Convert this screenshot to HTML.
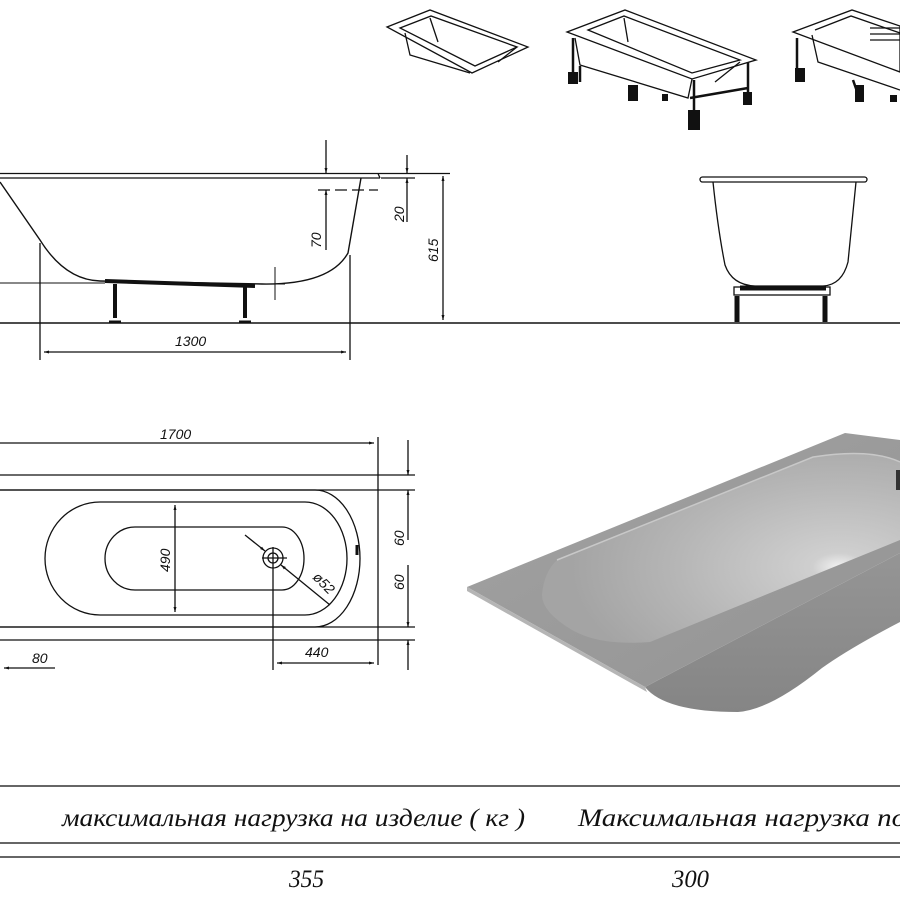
<!DOCTYPE html>
<html><head><meta charset="utf-8"><style>
html,body{margin:0;padding:0;background:#fff;}
svg{display:block}
text{font-family:"Liberation Sans",sans-serif;font-style:italic;fill:#111}
.t{font-family:"Liberation Serif",serif;font-style:italic}
</style></head><body>
<svg width="900" height="900" viewBox="0 0 900 900" xmlns="http://www.w3.org/2000/svg">
<defs>
<marker id="a" viewBox="0 0 10 10" refX="10" refY="5" markerWidth="10" markerHeight="5" orient="auto-start-reverse" markerUnits="userSpaceOnUse"><path d="M0,2 L10,5 L0,8z" fill="#111"/></marker>
<linearGradient id="g1" x1="0" y1="0" x2="1" y2="1"><stop offset="0" stop-color="#a2a2a2"/><stop offset="1" stop-color="#949494"/></linearGradient>
<radialGradient id="g2" cx="0.83" cy="0.6" r="0.75"><stop offset="0" stop-color="#f2f2f2"/><stop offset="0.1" stop-color="#cfcfcf"/><stop offset="0.6" stop-color="#b6b6b6"/><stop offset="1" stop-color="#a4a4a4"/></radialGradient>
<linearGradient id="g3" x1="0" y1="0" x2="0" y2="1"><stop offset="0" stop-color="#959595"/><stop offset="1" stop-color="#858585"/></linearGradient>
</defs>
<g fill="none" stroke="#111" stroke-width="1.3">
<!-- iso tub 1 -->
<path d="M387,27 L430,10 L528,47 L472,73 Z" fill="#fff"/>
<path d="M400,28 L431,16 L517,47 L475,66 Z"/>
<path d="M405,33 L410,55 L470,73 M430,18 L438,42 M517,47 L498,62"/>
<!-- iso tub 2 -->
<path d="M567,32 L625,10 L756,60 L692,79 Z" fill="#fff"/>
<path d="M588,30 L624,16 L740,60 L692,73 Z"/>
<path d="M575,38 L580,65 L688,98 L692,79 M624,18 L628,42 M740,62 L715,82"/>
<path d="M573,38 L573,80 M580,66 L580,82 M694,80 L694,125 M748,62 L748,100 M690,98 L748,88" stroke-width="2.5"/>
<g fill="#111" stroke="none"><rect x="568" y="72" width="10" height="12"/><rect x="628" y="85" width="10" height="16"/><rect x="688" y="110" width="12" height="20"/><rect x="743" y="92" width="9" height="13"/><rect x="662" y="94" width="6" height="7"/></g>
<!-- iso tub 3 -->
<path d="M793,32 L852,10 L900,26 L900,72 Z" fill="#fff"/>
<path d="M815,30 L851,16 L900,33 M812,35 L818,62 L900,90"/>
<path d="M797,38 L797,82 M853,80 L860,100" stroke-width="2.5"/>
<path d="M870,28 L900,28 M870,34 L900,34 M870,40 L900,40"/>
<g fill="#111" stroke="none"><rect x="795" y="68" width="10" height="14"/><rect x="855" y="85" width="9" height="17"/><rect x="890" y="95" width="7" height="7"/></g>

<!-- side view -->
<path d="M0,173.5 H380 M0,178 H380 M378,173.5 L380,178"/>
<path d="M0,182 L40,240 Q65,280 100,281 L262,284 Q330,285 348,253 L361,178" stroke-width="1.4"/>
<path d="M105,281 L255,286" stroke-width="4"/>
<path d="M0,283 H105" stroke-width="1"/>
<path d="M115,284 V318 M245,286 V318" stroke-width="4"/>
<path d="M109,322 h12 M239,322 h12" stroke-width="3"/>
<path d="M0,323 H900" stroke-width="1.4"/>
<path d="M40,243 V360 M350,255 V360"/>
<path d="M44,352 H346" marker-start="url(#a)" marker-end="url(#a)"/>
<path d="M275,267 V300 M265,284 H285" stroke-width="1"/>
<path d="M318,190 H378" stroke-dasharray="12,5"/>
<path d="M326,140 V173" marker-end="url(#a)"/>
<path d="M326,250 V190" marker-end="url(#a)"/>
<path d="M381,178 H415 M380,173.5 H450"/>
<path d="M407,155 V173" marker-end="url(#a)"/>
<path d="M407,222 V178" marker-end="url(#a)"/>
<path d="M443,176 V320" marker-start="url(#a)" marker-end="url(#a)"/>

<!-- end view -->
<rect x="700" y="177" width="167" height="5" rx="2.5"/>
<path d="M713,182 Q718,230 725,265 Q732,285 755,286 L823,286 Q842,285 848,262 L856,182"/>
<rect x="734" y="287" width="96" height="8"/>
<path d="M740,288 L826,288 M737,296 V322 M825,296 V322" stroke-width="5"/>

<!-- plan view -->
<path d="M0,475 H415 M0,490 H415 M0,627 H415 M0,640 H415"/>
<path d="M378,437 V665"/>
<path d="M0,443 H374" marker-end="url(#a)"/>
<path d="M0,490 H315 A45,68.5 0 0 1 315,627 H0"/>
<path d="M357,545 v10" stroke-width="3"/>
<path d="M100,502 H305 A42,56.5 0 0 1 305,615 H100 A55,56.5 0 0 1 100,502 Z"/>
<path d="M135,527 H282 A22,31.5 0 0 1 282,590 H135 A30,31.5 0 0 1 135,527 Z"/>
<path d="M175,505 V612" marker-start="url(#a)" marker-end="url(#a)"/>
<circle cx="273" cy="558" r="10"/><circle cx="273" cy="558" r="5"/>
<path d="M262,558 H287 M273,547 V570 M273,570 V670"/>
<path d="M245,535 L265,551" marker-end="url(#a)"/>
<path d="M330,605 L281,565" marker-end="url(#a)"/>
<path d="M277,663 H374" marker-start="url(#a)" marker-end="url(#a)"/>
<path d="M408,440 V475" marker-end="url(#a)"/>
<path d="M408,540 V490" marker-end="url(#a)"/>
<path d="M408,565 V627" marker-end="url(#a)"/>
<path d="M408,670 V640" marker-end="url(#a)"/>
<path d="M55,668 H4" marker-end="url(#a)"/>

<!-- table lines -->
<path d="M0,786 H900 M0,843 H900 M0,857 H900" stroke="#333" stroke-width="1.5"/>
</g>

<!-- 3D bath -->
<path d="M645,687 L900,553 L900,622 Q850,648 822,668 Q770,710 738,712 Q665,712 645,687 Z" fill="url(#g3)"/>
<path d="M467,587 L845,433 L900,440 L900,553 L645,687 Z" fill="url(#g1)"/>
<path d="M467,587 L645,687 L647,692 L467,591 Z" fill="#b5b5b5"/>
<path d="M557,560 L813,457 Q870,448 900,462 L900,540 L650,642 Q600,646 572,630 Q542,612 542,595 Q544,572 557,560 Z" fill="url(#g2)"/>
<path d="M557,560 L813,457 Q870,448 900,462" stroke="#c8c8c8" stroke-width="1.5" fill="none"/>
<path d="M898,470 v20" stroke="#333" stroke-width="4"/>

<!-- dimension labels -->
<g font-size="14">
<text x="175" y="346">1300</text>
<text x="160" y="439">1700</text>
<text x="305" y="657">440</text>
<text x="32" y="663">80</text>
<text transform="translate(321,248) rotate(-90)">70</text>
<text transform="translate(404,222) rotate(-90)">20</text>
<text transform="translate(438,262) rotate(-90)">615</text>
<text transform="translate(170,572) rotate(-90)">490</text>
<text transform="translate(404,546) rotate(-90)">60</text>
<text transform="translate(404,590) rotate(-90)">60</text>
<text transform="translate(312,578) rotate(45)">ø52</text>
</g>
<g class="t" font-size="25">
<text class="t" x="62" y="826" textLength="463" lengthAdjust="spacingAndGlyphs">максимальная нагрузка на изделие ( кг )</text>
<text class="t" x="578" y="826" textLength="340" lengthAdjust="spacingAndGlyphs">Максимальная нагрузка пол</text>
<text class="t" x="289" y="887" textLength="35" lengthAdjust="spacingAndGlyphs">355</text>
<text class="t" x="672" y="887" textLength="37" lengthAdjust="spacingAndGlyphs">300</text>
</g>
</svg>
</body></html>
